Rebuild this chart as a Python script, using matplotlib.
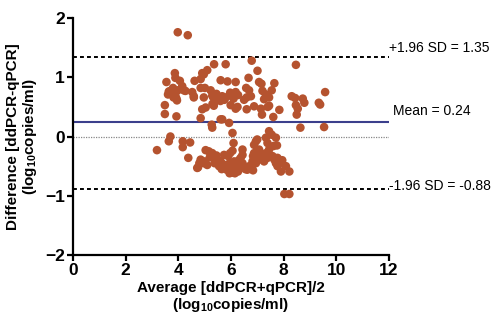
import matplotlib
matplotlib.use("Agg")
import matplotlib.pyplot as plt

plt.rcParams["font.family"] = ["Liberation Sans", "DejaVu Sans"]
plt.rcParams["mathtext.fontset"] = "custom"
plt.rcParams["mathtext.bf"] = "Liberation Sans:bold"
plt.rcParams["mathtext.rm"] = "Liberation Sans:bold"
plt.rcParams["mathtext.default"] = "bf"

# Bland-Altman points: (average, difference)
avg_hi = [3.98, 4.36, 5.36, 5.80, 6.79, 8.47, 7.01, 5.10, 4.91, 3.87,
          3.55, 4.06, 4.62, 5.61, 5.87, 6.18, 6.67, 7.07, 7.16, 7.65,
          5.01, 3.80, 3.98, 3.70, 4.21, 3.61, 3.89, 3.93, 4.53, 4.59,
          5.23, 5.29, 5.33, 5.51, 5.67, 5.80, 5.99, 5.97, 6.18, 6.27,
          5.60, 5.45, 6.58, 6.69, 6.76, 6.60, 6.50, 7.20, 7.33, 7.45,
          7.55, 7.26, 7.14, 7.18, 7.40, 7.45, 6.88, 6.60, 5.99, 6.25,
          6.18, 5.30, 5.35, 4.91, 4.85, 5.67, 5.93, 3.93, 3.49, 3.49,
          7.84, 7.61, 8.31, 8.44, 8.73, 8.79, 8.47, 8.54, 8.50, 8.64,
          9.34, 9.39, 9.58, 9.54, 5.27, 5.29, 6.06, 3.89, 4.15, 4.27,
          4.59, 4.85, 4.97, 4.85, 4.97, 5.04, 5.36, 5.61, 3.64, 3.82,
          3.95, 5.45, 5.75, 6.10]
diff_hi = [1.76, 1.71, 1.22, 1.22, 1.28, 1.21, 1.11, 1.12, 1.07, 1.07,
           0.92, 0.94, 0.94, 0.95, 0.93, 0.92, 0.99, 0.92, 0.89, 0.90,
           0.82, 0.82, 0.78, 0.77, 0.78, 0.71, 0.69, 0.64, 0.75, 0.66,
           0.78, 0.69, 0.66, 0.66, 0.68, 0.66, 0.69, 0.74, 0.75, 0.70,
           0.60, 0.62, 0.82, 0.78, 0.68, 0.66, 0.62, 0.77, 0.71, 0.66,
           0.78, 0.63, 0.47, 0.37, 0.50, 0.52, 0.51, 0.46, 0.53, 0.50,
           0.47, 0.55, 0.52, 0.46, 0.31, 0.29, 0.23, 0.34, 0.53, 0.38,
           0.45, 0.33, 0.68, 0.65, 0.64, 0.57, 0.53, 0.47, 0.37, 0.15,
           0.57, 0.54, 0.75, 0.16, 0.20, 0.15, 0.06, 0.99, 0.85, 0.77,
           0.68, 0.97, 1.05, 0.82, 0.66, 0.49, 0.57, 0.29, 0.76, 0.66,
           0.61, 0.72, 0.62, 0.64]

avg_lo = [3.19, 3.64, 3.70, 4.17, 4.17, 4.45, 4.38, 4.75, 4.85, 5.01,
          4.97, 5.04, 5.16, 5.29, 5.38, 5.48, 5.61, 5.71, 5.80, 5.84,
          5.89, 5.97, 6.06, 6.10, 6.12, 6.18, 6.25, 6.27, 6.37, 6.44,
          6.37, 6.44, 6.44, 6.55, 6.62, 6.84, 6.82, 6.84, 6.88, 6.95,
          6.88, 7.07, 7.14, 7.20, 7.07, 7.26, 7.33, 7.39, 7.45, 7.55,
          7.33, 7.39, 7.45, 7.58, 7.65, 7.71, 7.77, 7.62, 7.71, 7.75,
          7.77, 7.90, 8.09, 8.22, 8.03, 8.22, 7.00, 5.74, 5.45, 5.20,
          5.55, 5.65, 5.95, 6.00, 6.05, 5.90, 6.30, 6.70, 6.95, 7.00,
          5.10, 4.80, 5.95, 6.15, 7.85, 7.95, 4.72, 6.11]
diff_lo = [-0.23, -0.08, 0.00, -0.08, -0.18, -0.10, -0.36, -0.52, -0.39, -0.42,
           -0.45, -0.23, -0.25, -0.28, -0.45, -0.39, -0.42, -0.47, -0.53, -0.56,
           -0.33, -0.28, -0.24, -0.11, -0.42, -0.47, -0.53, -0.59, -0.50, -0.45,
           -0.36, -0.31, -0.22, -0.55, -0.56, -0.57, -0.42, -0.33, -0.14, -0.08,
           -0.28, -0.22, -0.31, -0.36, -0.39, -0.42, -0.02, -0.11, 0.09, 0.03,
           -0.28, -0.36, -0.22, -0.33, -0.39, -0.45, -0.36, -0.16, -0.02, -0.15,
           -0.50, -0.59, -0.50, -0.59, -0.97, -0.97, -0.05, -0.31, -0.32, -0.35,
           -0.50, -0.55, -0.45, -0.55, -0.60, -0.50, -0.40, -0.50, -0.45, -0.35,
           -0.48, -0.45, -0.62, -0.62, -0.45, -0.40, -0.53, -0.61]

mean_diff = 0.24
upper_loa = 1.35
lower_loa = -0.88

fig = plt.figure(figsize=(4.95, 3.22), dpi=100)
ax = fig.add_axes([0.1475, 0.208, 0.638, 0.736])

dot = "#B5532F"
ax.scatter(avg_hi + avg_lo, diff_hi + diff_lo, s=38, color=dot, edgecolors="none", zorder=3)

ax.axhline(0, color="#888888", lw=0.9, ls=(0, (1, 1)), zorder=1)
ax.axhline(mean_diff, color="#3B3F8C", lw=1.5, zorder=2)
ax.axhline(upper_loa, color="black", lw=1.4, ls=(0, (2, 1.6)), zorder=2)
ax.axhline(lower_loa, color="black", lw=1.4, ls=(0, (2, 1.6)), zorder=2)

ax.set_xlim(0, 12)
ax.set_ylim(-2, 2)
ax.set_xticks(range(0, 13, 2))
ax.set_yticks(range(-2, 3))
for s in ["top", "right"]:
    ax.spines[s].set_visible(False)
for s in ["left", "bottom"]:
    ax.spines[s].set_linewidth(1.6)
ax.tick_params(width=1.6, length=4, labelsize=12.5, pad=2)
for lbl in ax.get_xticklabels() + ax.get_yticklabels():
    lbl.set_fontweight("bold")

ax.set_xlabel("Average [ddPCR+qPCR]/2\n(log$_{10}$copies/ml)", fontsize=11,
              fontweight="bold", linespacing=1.1, labelpad=2)
ax.set_ylabel("Difference [ddPCR-qPCR]\n(log$_{10}$copies/ml)", fontsize=11,
              fontweight="bold", linespacing=1.1, labelpad=4)

ax.text(12.0, upper_loa + 0.02, "+1.96 SD = 1.35", fontsize=10, va="bottom", ha="left", clip_on=False)
ax.text(12.15, mean_diff + 0.07, "Mean = 0.24", fontsize=10, va="bottom", ha="left", clip_on=False)
ax.text(12.0, lower_loa + 0.05, "-1.96 SD = -0.88", fontsize=10, va="center", ha="left", clip_on=False)

fig.savefig("out.png", dpi=100)
